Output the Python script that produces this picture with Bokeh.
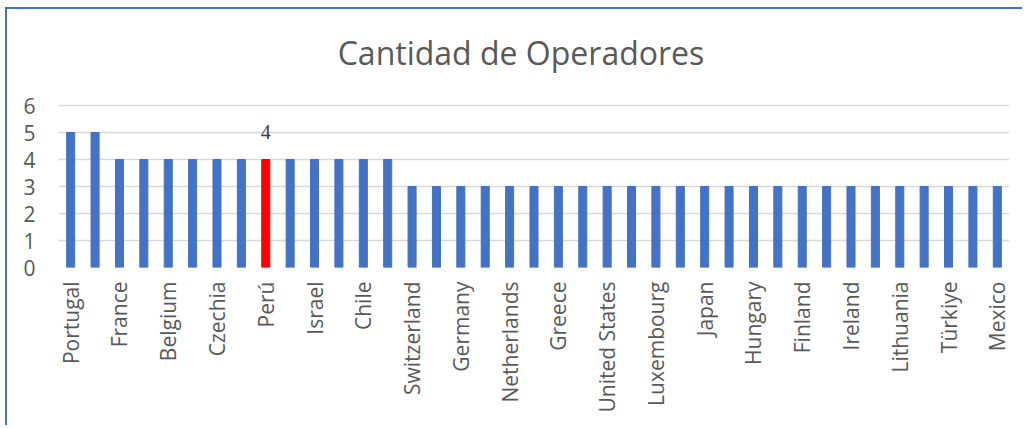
import math
from bokeh.plotting import figure
from bokeh.models import ColumnDataSource, LabelSet, Label, FactorRange, Range1d, FixedTicker, CustomJSTickFormatter
from bokeh.embed import file_html
from bokeh.resources import INLINE

# ---- data ----
countries = [
    "Portugal", "Italy", "France", "Spain", "Belgium", "Austria", "Czechia", "Poland",
    "Perú", "Colombia", "Israel", "Costa Rica", "Chile", "Slovenia", "Switzerland", "Denmark",
    "Germany", "Norway", "Netherlands", "Sweden", "Greece", "Australia", "United States", "Canada",
    "Luxembourg", "Korea", "Japan", "New Zealand", "Hungary", "Estonia", "Finland", "Latvia",
    "Ireland", "Iceland", "Lithuania", "Slovak Republic", "Türkiye", "United Kingdom", "Mexico",
]
operadores = [
    5, 5, 4, 4, 4, 4, 4, 4,
    4, 4, 4, 4, 4, 4, 3, 3,
    3, 3, 3, 3, 3, 3, 3, 3,
    3, 3, 3, 3, 3, 3, 3, 3,
    3, 3, 3, 3, 3, 3, 3,
]
highlight = "Perú"
title_text = "Cantidad de Operadores"
y_ticks = [0, 1, 2, 3, 4, 5, 6]

BLUE = "#4472C4"
RED = "#FF0000"
TXT = "#595959"
FONT = "Open Sans"

colors = [RED if c == highlight else BLUE for c in countries]
src = ColumnDataSource(dict(country=countries, value=operadores, color=colors))
hi = [i for i, c in enumerate(countries) if c == highlight]
src_lab = ColumnDataSource(dict(country=[countries[i] for i in hi],
                                value=[operadores[i] for i in hi],
                                text=[str(operadores[i]) for i in hi]))

# The frame reaches up to the top of the canvas so the title fits inside it;
# only the 0-6 ticks / gridlines are drawn.
TOP_ROOM = 3.556  # extra headroom (in value units) above the 6 gridline for the title
p = figure(
    x_range=FactorRange(factors=countries, range_padding=0),
    y_range=Range1d(0, max(y_ticks) + TOP_ROOM),
    width=1017, height=418,
    output_backend="svg", toolbar_location=None,
    min_border_left=51, min_border_right=15,
    min_border_top=0, min_border_bottom=160,
)
p.styles = {"border-top": f"2px solid {BLUE}", "border-left": f"2px solid {BLUE}",
            "margin-left": "5px", "margin-top": "7px"}
p.title.visible = False

title = Label(x=len(countries) / 2, y=max(y_ticks), text=title_text,
              x_offset=-13, y_offset=53,
              text_align="center", text_baseline="middle",
              text_font=FONT, text_font_size="32px", text_color=TXT)
p.add_layout(title)

p.vbar(x="country", top="value", width=0.33, color="color", source=src)

labels = LabelSet(x="country", y="value", text="text", source=src_lab,
                  text_align="center", text_baseline="bottom", y_offset=21,
                  text_font=FONT, text_font_size="20px", text_color="#404040")
p.add_layout(labels)

p.outline_line_color = None
p.xgrid.grid_line_color = None
p.ygrid.grid_line_color = "#D9D9D9"
p.ygrid.grid_line_width = 1.5

p.yaxis.ticker = FixedTicker(ticks=y_ticks)
p.yaxis.axis_line_color = None
p.yaxis.major_tick_line_color = None
p.yaxis.minor_tick_line_color = None
p.yaxis.major_label_text_font = FONT
p.yaxis.major_label_text_font_size = "21px"
p.yaxis.major_label_text_color = TXT
p.yaxis.major_label_standoff = 17

p.xaxis.axis_line_color = None
p.xaxis.major_tick_line_color = None
p.xaxis.major_label_orientation = math.pi / 2
p.xaxis.major_label_text_font = FONT
p.xaxis.major_label_text_font_size = "21px"
p.xaxis.major_label_text_color = TXT
p.xaxis.major_label_standoff = 8
p.xaxis.formatter = CustomJSTickFormatter(code="return (index % 2 == 0) ? tick : '';")

open("out.html", "w").write(file_html(p, INLINE))
